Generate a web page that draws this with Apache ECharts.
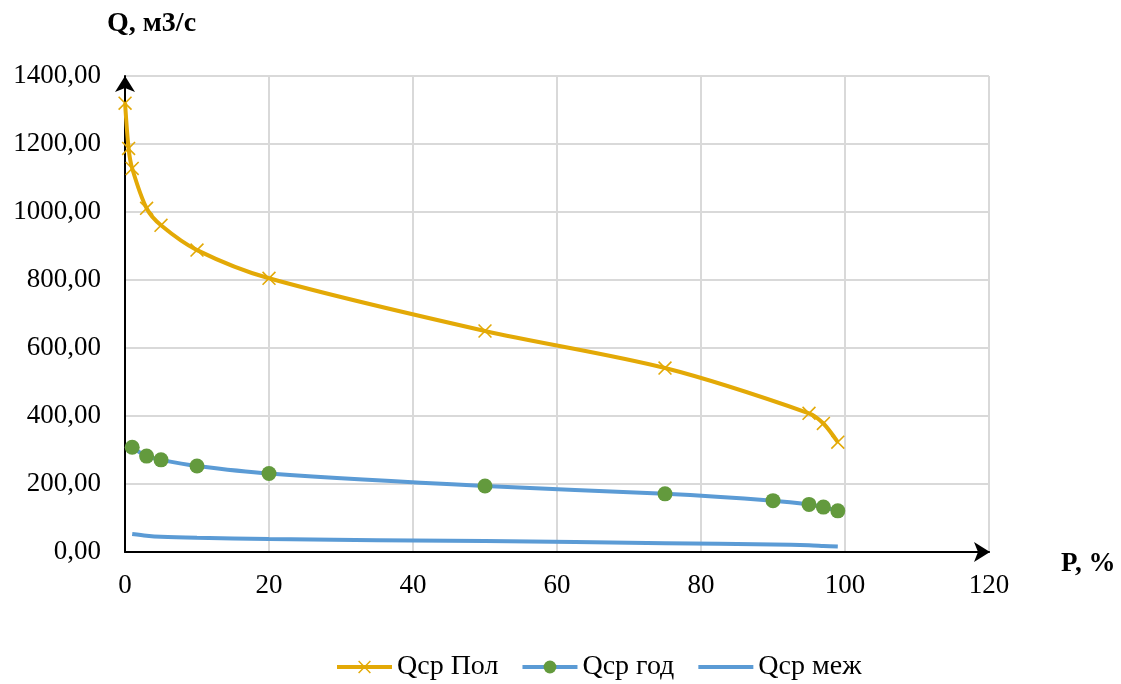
<!DOCTYPE html>
<html><head><meta charset="utf-8">
<script src="https://cdn.jsdelivr.net/npm/echarts@6/dist/echarts.min.js"></script>
<style>html,body{margin:0;padding:0;background:#fff}#c{width:1121px;height:684px}</style>
</head><body><div id="c"></div>
<script>
const pPol = [0.01, 0.5, 1, 3, 5, 10, 20, 50, 75, 95, 97, 99];
const qPol = [1320, 1187, 1128, 1011, 961, 888, 805, 650, 541, 408, 378, 323];
const pGod = [1, 3, 5, 10, 20, 50, 75, 90, 95, 97, 99];
const qGod = [308, 282, 271, 253, 231, 194, 171, 151, 140, 132, 121];
const pMezh = [1, 3, 5, 10, 20, 50, 75, 90, 95, 97, 99];
const qMezh = [53, 48, 45, 42, 38, 32, 26, 22, 20, 18, 16];
const xTicks = [0, 20, 40, 60, 80, 100, 120];
const yTicks = [0, 200, 400, 600, 800, 1000, 1200, 1400];

const FONT = '"Liberation Serif", "Times New Roman", serif';
const zip = (a, b) => a.map((v, i) => [v, b[i]]);
const X_PATH = 'path://M0,0.8L0.8,0L10,9.2L9.2,10Z M9.2,0L10,0.8L0.8,10L0,9.2Z';

const chart = echarts.init(document.getElementById('c'), null, {renderer: 'canvas'});
chart.setOption({
  animation: false,
  textStyle: {fontFamily: FONT, color: '#000'},
  grid: {left: 125, right: 132, top: 76, bottom: 132, containLabel: false},
  xAxis: {
    type: 'value', min: xTicks[0], max: xTicks[xTicks.length - 1], interval: 20,
    axisLine: {show: true, onZero: false, lineStyle: {color: '#000', width: 2},
      symbol: ['none', 'arrow'], symbolSize: [15, 16], symbolOffset: [0, 1]},
    axisTick: {show: false},
    axisLabel: {fontSize: 27, color: '#000', margin: 20, fontFamily: FONT},
    splitLine: {show: true, lineStyle: {color: '#d9d9d9', width: 2}}
  },
  yAxis: {
    type: 'value', min: yTicks[0], max: yTicks[yTicks.length - 1], interval: 200,
    axisLine: {show: true, onZero: false, lineStyle: {color: '#000', width: 2},
      symbol: ['none', 'arrow'], symbolSize: [15, 16], symbolOffset: [0, 0]},
    axisTick: {show: false},
    axisLabel: {fontSize: 27, color: '#000', margin: 24, fontFamily: FONT,
      formatter: v => v.toFixed(2).replace('.', ',')},
    splitLine: {show: true, lineStyle: {color: '#d9d9d9', width: 2}}
  },
  legend: {
    top: 648, left: 330, itemWidth: 55, itemHeight: 16, itemGap: 22,
    lineStyle: {width: 4},
    textStyle: {fontSize: 28, color: '#000', fontFamily: FONT},
    data: ['Qср Пол', 'Qср год', 'Qср меж']
  },
  graphic: [
    {type: 'text', left: 107, top: 10, style: {text: 'Q, м3/с', font: 'bold 28px ' + FONT, fill: '#000'}},
    {type: 'text', left: 1061, top: 551, style: {text: 'P, %', font: 'bold 27px ' + FONT, fill: '#000'}}
  ],
  series: [
    {
      name: 'Qср Пол', type: 'line', data: zip(pPol, qPol), smooth: 0.3,
      symbol: X_PATH, symbolSize: 14, showSymbol: true,
      lineStyle: {color: '#E3A906', width: 4},
      itemStyle: {color: '#E3A906'}, z: 3
    },
    {
      name: 'Qср год', type: 'line', data: zip(pGod, qGod), smooth: 0.3,
      symbol: 'circle', symbolSize: 15,
      lineStyle: {color: '#5B9BD5', width: 4},
      itemStyle: {color: '#639A3D', borderWidth: 0}, z: 3
    },
    {
      name: 'Qср меж', type: 'line', data: zip(pMezh, qMezh), smooth: 0.3,
      symbol: 'none', showSymbol: false,
      lineStyle: {color: '#5B9BD5', width: 4},
      itemStyle: {color: 'rgba(0,0,0,0)'}, z: 3
    }
  ]
});
</script></body></html>
